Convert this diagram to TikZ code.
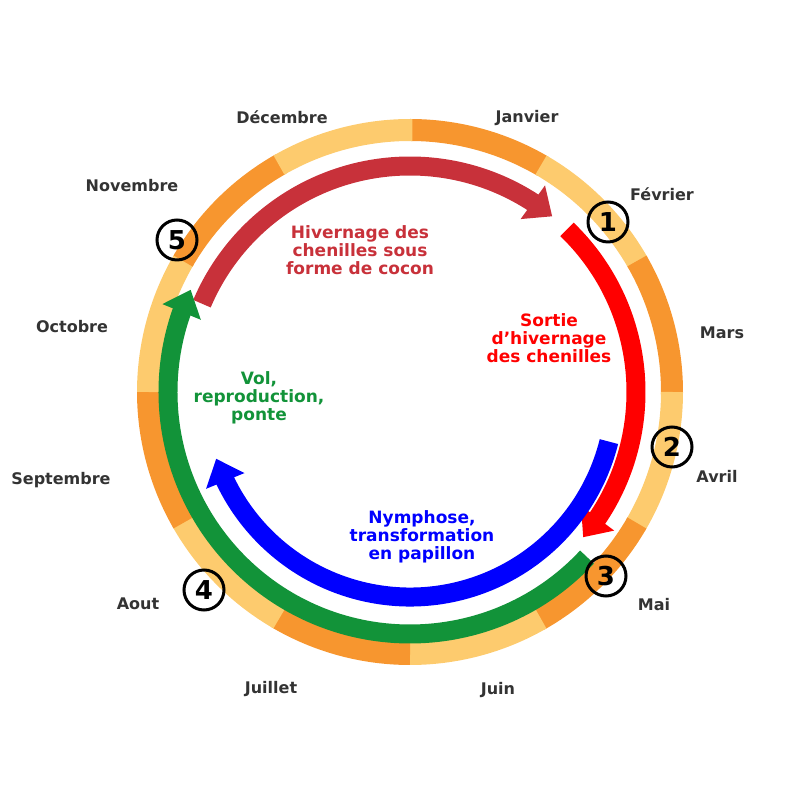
\documentclass[tikz,border=0pt]{standalone}
\usepackage{fontspec}
\setmainfont{DejaVu Sans}
\usetikzlibrary{arrows.meta,bending}
\definecolor{org}{HTML}{F7962F}
\definecolor{lig}{HTML}{FDCB6E}
\definecolor{dred}{HTML}{C8313A}
\definecolor{bred}{HTML}{FF0000}
\definecolor{grn}{HTML}{129339}
\definecolor{blu}{HTML}{0000FF}
\definecolor{txt}{HTML}{333333}
\begin{document}
\begin{tikzpicture}[x=1pt,y=1pt,
  seg/.style={line width=22pt},
  arr/.style={line width=19pt,-{Triangle[length=24pt,width=40pt,flex'=1]}},
  month/.style={font=\fontsize{16}{16}\selectfont\bfseries,text=txt},
  lab/.style={font=\fontsize{17}{18}\selectfont\bfseries,align=center},
  num/.style={circle,draw=black,line width=3pt,minimum size=40pt,inner sep=0pt,font=\fontsize{26}{26}\selectfont\bfseries}]
\useasboundingbox (0,0) rectangle (800,800);
\coordinate (C) at (410,408);
% ring
\foreach \a/\c in {90/org,60/lig,30/org,0/lig,-30/org,-60/lig,-90/org,-120/lig,-150/org,-180/lig,-210/org,-240/lig}{
  \draw[seg,\c] (C) ++(\a:262) arc[start angle=\a, end angle=\a-30.5, radius=262];
}
% arrows
\draw[arr,dred] (C) ++(157:226) arc[start angle=157, end angle=51, radius=226];
\draw[arr,bred] (C) ++(46:226) arc[start angle=46, end angle=-40, radius=226];
\draw[arr,blu] (C) ++(-14:205) arc[start angle=-14, end angle=-161, radius=205];
\draw[arr,grn] (C) ++(-43:242) arc[start angle=-43, end angle=-205, radius=242];
% numbers
\node[num] (n1) at (608,578) {1};
\node[num] (n2) at (672,353) {2};
\node[num] (n3) at (606,224) {3};
\node[num] (n4) at (204,210) {4};
\node[num] (n5) at (177,560) {5};
% months
\node[month] (m12) at (282,683) {Décembre};
\node[month] (m1) at (527,682) {Janvier};
\node[month] (m2) at (662,606) {Février};
\node[month] (m3) at (722,467) {Mars};
\node[month] (m4) at (717,324) {Avril};
\node[month] (m5) at (654,195) {Mai};
\node[month] (m6) at (498,110) {Juin};
\node[month] (m7) at (271,111) {Juillet};
\node[month] (m8) at (138,196) {Aout};
\node[month] (m9) at (61,320) {Septembre};
\node[month] (m10) at (72,473) {Octobre};
\node[month] (m11) at (132,614) {Novembre};
% labels
\node[lab,text=dred] (t1) at (360,550) {Hivernage des\\chenilles sous\\forme de cocon};
\node[lab,text=bred] (t2) at (549,462) {Sortie\\d’hivernage\\des chenilles};
\node[lab,text=grn] (t3) at (259,402) {Vol,\\reproduction,\\ponte};
\node[lab,text=blu] (t4) at (422,263) {Nymphose,\\transformation\\en papillon};
\end{tikzpicture}
\end{document}
